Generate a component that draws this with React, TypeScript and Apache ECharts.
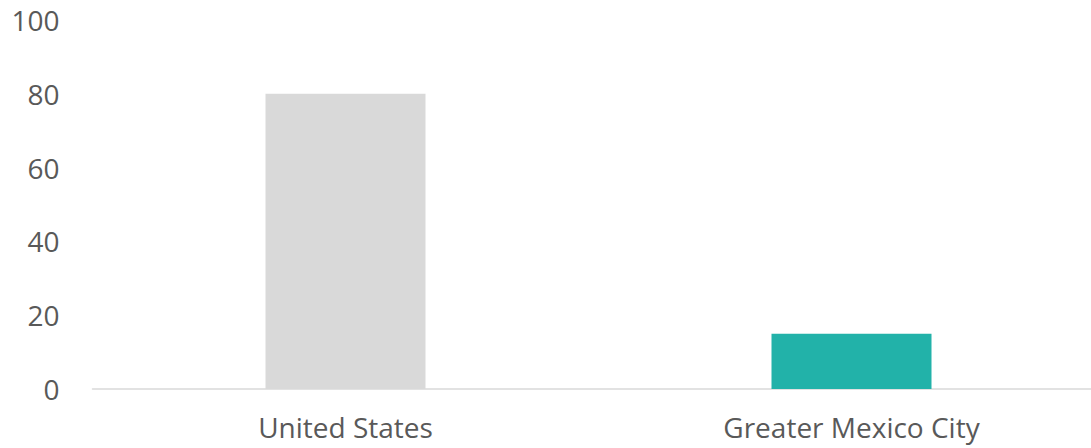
import React, { useEffect, useRef } from "react";
import * as echarts from "echarts";

const categories = ["United States", "Greater Mexico City"];
const values = [80, 15];
const barColors = ["#D9D9D9", "#22B2A9"];
const yTicks = { min: 0, max: 100, interval: 20 };

export default function App() {
  const ref = useRef<HTMLDivElement>(null);
  useEffect(() => {
    if (!ref.current) return;
    const chart = echarts.init(ref.current, undefined, { renderer: "svg" });
    chart.setOption({
      animation: false,
      grid: { left: 92.5, right: 5.5, top: 20, bottom: 59, containLabel: false },
      xAxis: {
        type: "category",
        data: categories,
        axisLine: { lineStyle: { color: "#D9D9D9", width: 1.5 } },
        axisTick: { show: false },
        axisLabel: {
          color: "#595959",
          fontSize: 28,
          lineHeight: 28,
          fontFamily: "Open Sans",
          margin: 24,
        },
      },
      yAxis: {
        type: "value",
        min: yTicks.min,
        max: yTicks.max,
        interval: yTicks.interval,
        splitLine: { show: false },
        axisLine: { show: false },
        axisTick: { show: false },
        axisLabel: {
          color: "#595959",
          fontSize: 28,
          fontFamily: "Open Sans",
          margin: 33,
        },
      },
      series: [
        {
          type: "bar",
          barWidth: 160,
          data: values.map((v, i) => ({ value: v, itemStyle: { color: barColors[i] } })),
        },
      ],
    });
    return () => chart.dispose();
  }, []);
  return (
    <div style={{ position: "fixed", left: 0, top: 0, width: 1091, height: 448, overflow: "hidden", background: "#fff" }}>
      <div ref={ref} style={{ width: 1110, height: 448 }} />
    </div>
  );
}
